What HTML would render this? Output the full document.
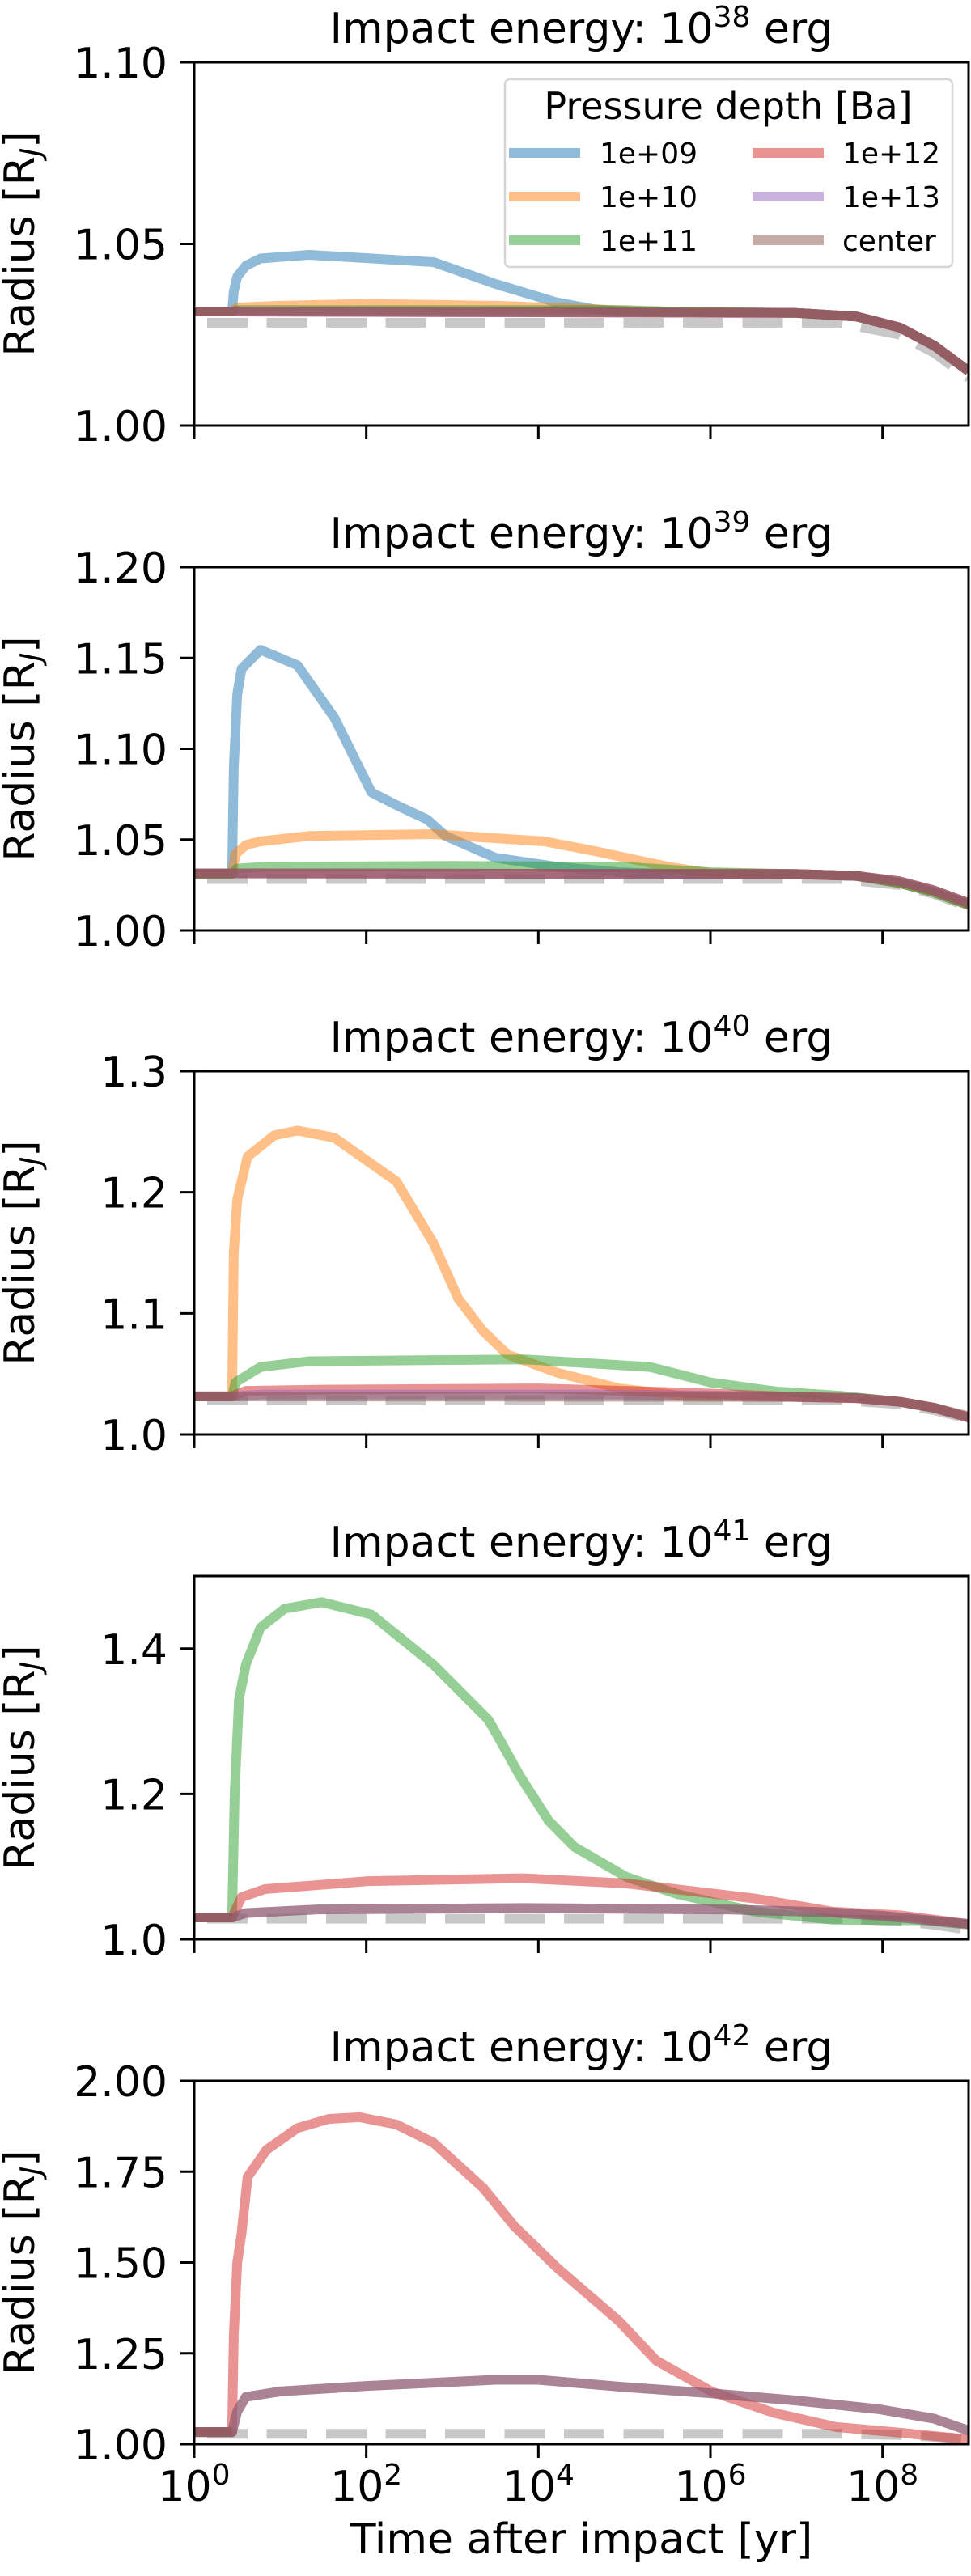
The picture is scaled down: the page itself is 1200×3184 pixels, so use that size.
<!DOCTYPE html>
<html><head><meta charset="utf-8"><style>
html,body{margin:0;padding:0;background:#fff}
svg{display:block}
text{font-family:"DejaVu Sans","Liberation Sans",sans-serif;fill:#000}
</style></head><body>
<svg id="fig" width="1200" height="3184" viewBox="0 0 1200 3184" xmlns="http://www.w3.org/2000/svg"></svg>
<script>
// ---------- data ----------
const xTickLogs=[0,2,4,6,8];
const xTickLabels=["0","2","4","6","8"];
const energyExps=["38","39","40","41","42"];
const yMins=[1.00,1.00,1.0,1.0,1.00];
const yMaxs=[1.10,1.20,1.3,1.5,2.00];
const yTicks1=[1.00,1.05,1.10];
const yTicks2=[1.00,1.05,1.10,1.15,1.20];
const yTicks3=[1.0,1.1,1.2,1.3];
const yTicks4=[1.0,1.2,1.4];
const yTicks5=[1.00,1.25,1.50,1.75,2.00];
const yTickLabels1=["1.00","1.05","1.10"];
const yTickLabels2=["1.00","1.05","1.10","1.15","1.20"];
const yTickLabels3=["1.0","1.1","1.2","1.3"];
const yTickLabels4=["1.0","1.2","1.4"];
const yTickLabels5=["1.00","1.25","1.50","1.75","2.00"];
const seriesNames=["1e+09","1e+10","1e+11","1e+12","1e+13","center"];

const grayT=[0,7.5,8.2,8.6,9];
const grayR=[1.0283,1.0283,1.025,1.020,1.013];

const baseT=[0,0.44,7,7.7,8.2,8.6,9];
const baseR=[1.0314,1.0314,1.031,1.030,1.027,1.022,1.015];
const preT=[0,0.44];
const preR=[1.0314,1.0314];
const pre4R=[1.030,1.030];
const pre5R=[1.033,1.033];

// panel 1 (1e38)
const p1BlueT=[0,0.44,0.46,0.5,0.6,0.77,1.34,2.78,3.5,4.2,4.65,5,7,7.7,8.2,8.6,9];
const p1BlueR=[1.0314,1.0314,1.037,1.041,1.044,1.046,1.047,1.045,1.039,1.034,1.032,1.0314,1.031,1.030,1.027,1.022,1.015];
const p1OrangeT=[0,0.44,0.5,1,2,3.5,4.7,5.2,7,7.7,8.2,8.6,9];
const p1OrangeR=[1.0314,1.0314,1.0325,1.033,1.0335,1.033,1.032,1.0314,1.031,1.030,1.027,1.022,1.015];
const p1GreenT=[0,0.44,0.5,5,5.5,7,7.7,8.2,8.6,9];
const p1GreenR=[1.0314,1.0314,1.0318,1.0318,1.0314,1.031,1.030,1.027,1.022,1.015];

// panel 2 (1e39)
const p2BlueT=[0,0.44,0.46,0.5,0.55,0.77,1.2,1.63,2.06,2.35,2.71,2.92,3.5,4.22,4.94,5.5,7,7.7,8.2,8.6,9];
const p2BlueR=[1.0311,1.0311,1.09,1.13,1.144,1.1545,1.146,1.117,1.076,1.069,1.061,1.052,1.040,1.035,1.032,1.0311,1.031,1.030,1.026,1.021,1.014];
const p2OrangeT=[0,0.44,0.48,0.6,0.77,1.34,2.78,4.07,4.65,5.51,6.0,7,7.7,8.2,8.6,9];
const p2OrangeR=[1.0311,1.0311,1.042,1.047,1.049,1.052,1.053,1.049,1.0437,1.035,1.0315,1.031,1.030,1.026,1.021,1.014];
const p2GreenT=[0,0.44,0.5,0.8,3,5,6,7,7.7,8.2,8.6,9];
const p2GreenR=[1.0311,1.0311,1.034,1.035,1.0355,1.035,1.032,1.031,1.030,1.026,1.021,1.014];

// panel 3 (1e40)
const p3OrangeT=[0,0.44,0.46,0.5,0.62,0.93,1.2,1.63,2.35,2.78,3.07,3.35,3.64,4.22,4.94,5.66,7,7.7,8.2,8.6,9];
const p3OrangeR=[1.0315,1.0315,1.15,1.194,1.2295,1.247,1.251,1.245,1.209,1.158,1.112,1.086,1.066,1.051,1.038,1.032,1.031,1.030,1.027,1.022,1.014];
const p3GreenT=[0,0.44,0.48,0.77,1.34,3.85,5.3,6.0,6.74,7.5,8.2,8.6,9];
const p3GreenR=[1.0315,1.0315,1.043,1.0557,1.0605,1.062,1.0557,1.043,1.0357,1.032,1.027,1.022,1.014];
const p3RedT=[0,0.44,0.6,1.5,4,5.5,7,7.7,8.2,8.6,9];
const p3RedR=[1.0315,1.0315,1.036,1.037,1.038,1.035,1.031,1.030,1.027,1.022,1.014];
const p3PurpleT=[0,0.44,0.8,5,7,7.7,8.2,8.6,9];
const p3PurpleR=[1.0315,1.0315,1.033,1.033,1.031,1.030,1.027,1.022,1.014];

// panel 4 (1e41)
const p4GreenT=[0,0.44,0.47,0.52,0.6,0.77,1.05,1.48,2.06,2.78,3.42,3.55,3.78,4.12,4.42,5.02,5.62,6.52,7.42,8.5,9];
const p4GreenR=[1.030,1.030,1.2,1.33,1.378,1.429,1.455,1.464,1.447,1.378,1.302,1.275,1.226,1.163,1.127,1.086,1.062,1.038,1.027,1.026,1.020];
const p4RedT=[0,0.44,0.55,0.82,2.02,3.82,5.02,6.52,7.42,8.2,9];
const p4RedR=[1.030,1.030,1.058,1.069,1.080,1.084,1.077,1.056,1.038,1.033,1.021];
const p4PurpleT=[0,0.44,0.6,1.42,3.82,6.22,7.4,8.02,9];
const p4PurpleR=[1.030,1.030,1.036,1.041,1.043,1.041,1.037,1.032,1.021];

// panel 5 (1e42)
const p5RedT=[0,0.44,0.46,0.5,0.55,0.62,0.84,1.2,1.56,1.92,2.35,2.78,3.36,3.72,4.22,4.94,5.37,6.02,6.74,7.46,8.18,9];
const p5RedR=[1.033,1.033,1.3,1.5,1.58,1.735,1.81,1.87,1.895,1.90,1.88,1.83,1.705,1.60,1.485,1.338,1.23,1.144,1.086,1.047,1.032,1.013];
const p5PurpleT=[0,0.44,0.5,0.6,1.0,2,3.5,4,5,6,7,7.96,8.6,9];
const p5PurpleR=[1.033,1.033,1.09,1.13,1.145,1.16,1.177,1.177,1.157,1.14,1.12,1.096,1.07,1.037];

// ---------- layout ----------
const colors=["#1f77b4","#ff7f0e","#2ca02c","#d62728","#9467bd","#8c564b"];
const AX_L=240, AX_R=1197, AX_H=449;
const tops=[77,701,1324,1948,2572];
const panels=[
  {yt:yTicks1,yl:yTickLabels1,s:[[p1BlueT,p1BlueR],[p1OrangeT,p1OrangeR],[p1GreenT,p1GreenR],[baseT,baseR],[baseT,baseR],[baseT,baseR]]},
  {yt:yTicks2,yl:yTickLabels2,s:[[p2BlueT,p2BlueR],[p2OrangeT,p2OrangeR],[p2GreenT,p2GreenR],[baseT,baseR],[baseT,baseR],[baseT,baseR]]},
  {yt:yTicks3,yl:yTickLabels3,s:[[preT,preR],[p3OrangeT,p3OrangeR],[p3GreenT,p3GreenR],[p3RedT,p3RedR],[p3PurpleT,p3PurpleR],[baseT,baseR]]},
  {yt:yTicks4,yl:yTickLabels4,s:[[preT,pre4R],[preT,pre4R],[p4GreenT,p4GreenR],[p4RedT,p4RedR],[p4PurpleT,p4PurpleR],[p4PurpleT,p4PurpleR]]},
  {yt:yTicks5,yl:yTickLabels5,s:[[preT,pre5R],[preT,pre5R],[preT,pre5R],[p5RedT,p5RedR],[p5PurpleT,p5PurpleR],[p5PurpleT,p5PurpleR]]}
];
const NS="http://www.w3.org/2000/svg";
const svg=document.getElementById("fig");
function mk(tag,attrs,parent){const e=document.createElementNS(NS,tag);for(const k in attrs)e.setAttribute(k,attrs[k]);(parent||svg).appendChild(e);return e;}
const xScale=l=>AX_L+(l-0)/9*(AX_R-AX_L);

const defs=mk("defs",{});
panels.forEach((p,i)=>{
  const top=tops[i], bot=top+AX_H, ymin=yMins[i], ymax=yMaxs[i];
  const yScale=v=>top+(ymax-v)/(ymax-ymin)*AX_H;
  const g=mk("g",{});
  
  
  const cp=mk("clipPath",{id:"clip"+i},defs);
  mk("rect",{x:AX_L,y:top,width:AX_R-AX_L,height:AX_H},cp);
  const t=mk("text",{x:(AX_L+AX_R)/2,y:top-24,"text-anchor":"middle","font-size":52},g);
  
  
  t.appendChild(document.createTextNode("Impact energy: 10"));
  const sup=mk("tspan",{"font-size":36,dy:-20},t); sup.textContent=energyExps[i];
  const rest=mk("tspan",{dy:20},t); rest.textContent=" erg";
  const yl=mk("text",{transform:`translate(42,${(top+bot)/2}) rotate(-90)`,"text-anchor":"middle","font-size":52},g);
  
  
  yl.appendChild(document.createTextNode("Radius [R"));
  const sub=mk("tspan",{"font-size":36,dy:8,"font-style":"italic"},yl); sub.textContent="J";
  const cl=mk("tspan",{dy:-8},yl); cl.textContent="]";
  const lg=mk("g",{"clip-path":`url(#clip${i})`},g);
  const gp=mk("polyline",{points:grayT.map((l,k)=>xScale(l)+","+yScale(grayR[k])).join(" "),fill:"none",stroke:"#b0b0b0","stroke-opacity":0.7,"stroke-width":12,"stroke-dasharray":"50 23.5","stroke-dashoffset":-16},lg);
  
  
  p.s.forEach((sr,k)=>{
    const pl=mk("polyline",{points:sr[0].map((l,j)=>xScale(l)+","+yScale(sr[1][j])).join(" "),fill:"none",stroke:colors[k],"stroke-opacity":0.5,"stroke-width":12,"stroke-linejoin":"round"},lg);
    
    
  });
  const fr=mk("rect",{x:AX_L,y:top,width:AX_R-AX_L,height:AX_H,fill:"none",stroke:"#000","stroke-width":3},g);
  
  
  p.yt.forEach((v,k)=>{
    const y=yScale(v);
    mk("line",{x1:AX_L-17,x2:AX_L,y1:y,y2:y,stroke:"#000","stroke-width":3},g);
    const tl=mk("text",{x:AX_L-33,y:y+19,"text-anchor":"end","font-size":52},g);
    
    
    tl.textContent=p.yl[k];
  });
  xTickLogs.forEach((l,k)=>{
    const x=xScale(l);
    mk("line",{x1:x,x2:x,y1:bot,y2:bot+17,stroke:"#000","stroke-width":3},g);
    if(i===4){
      const xl=mk("text",{x:x,y:bot+70,"text-anchor":"middle","font-size":52},g);
      
      
      xl.appendChild(document.createTextNode("10"));
      const s=mk("tspan",{"font-size":36,dy:-20},xl); s.textContent=xTickLabels[k];
    }
  });
  if(i===4){
    const xt=mk("text",{x:(AX_L+AX_R)/2,y:bot+135,"text-anchor":"middle","font-size":52},g);
    
    
    xt.textContent="Time after impact [yr]";
  }
  if(i===0){
    const lgd=mk("g",{},g);
    
    
    mk("rect",{x:624,y:98,width:553,height:232,rx:6,fill:"#fff","fill-opacity":0.8,stroke:"#d6d6d6","stroke-width":2.5},lgd);
    const lt=mk("text",{x:900,y:147,"text-anchor":"middle","font-size":46},lgd);
    
    
    lt.textContent="Pressure depth [Ba]";
    const rows=[189,243,297];
    seriesNames.forEach((n,k)=>{
      const col=Math.floor(k/3), row=k%3;
      const hx=col?930:629, tx=col?1041:741, y=rows[row];
      const e=mk("g",{},lgd);
      
      
      mk("line",{x1:hx,x2:hx+88,y1:y,y2:y,stroke:colors[k],"stroke-opacity":0.5,"stroke-width":12},e);
      const et=mk("text",{x:tx,y:y+13,"font-size":36},e);
      et.textContent=n;
    });
  }
});
</script>
</body></html>
